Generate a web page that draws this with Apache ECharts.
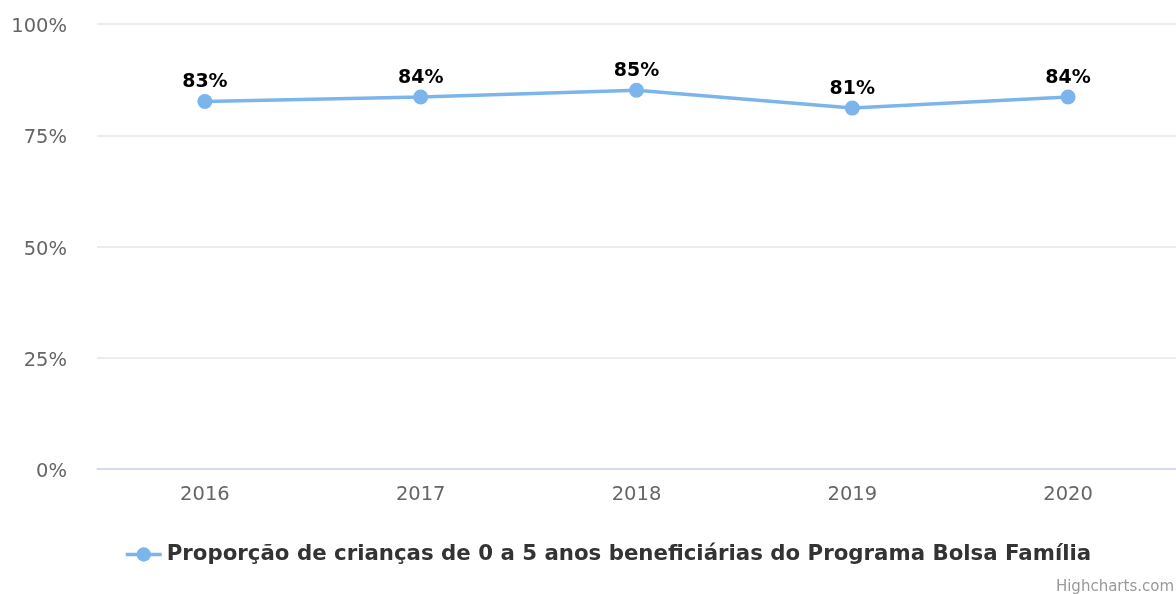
<!DOCTYPE html>
<html>
<head>
<meta charset="utf-8">
<script src="https://cdn.jsdelivr.net/npm/echarts@6/dist/echarts.min.js"></script>
<style>
html,body{margin:0;padding:0;background:#fff;}
#c{width:1176px;height:594px;}
</style>
</head>
<body>
<div id="c"></div>
<script>
var categories = ['2016', '2017', '2018', '2019', '2020'];
var values = [82.6, 83.6, 85.1, 81.1, 83.6];
var seriesName = 'Proporção de crianças de 0 a 5 anos beneficiárias do Programa Bolsa Família';
var yTicks = [0, 25, 50, 75, 100];

var chart = echarts.init(document.getElementById('c'), null, {renderer: 'canvas'});
var font = 'DejaVu Sans';
chart.setOption({
  animation: false,
  backgroundColor: '#ffffff',
  grid: {left: 97, right: -1, top: 24, bottom: 125, containLabel: false},
  xAxis: {
    type: 'category',
    data: categories,
    boundaryGap: true,
    axisLine: {show: true, lineStyle: {color: '#ccd6eb', width: 1.5}},
    axisTick: {show: false},
    axisLabel: {color: '#666666', fontFamily: font, fontSize: 19.5, margin: 16}
  },
  yAxis: {
    type: 'value',
    min: yTicks[0],
    max: yTicks[yTicks.length - 1],
    interval: 25,
    axisLine: {show: false},
    axisTick: {show: false},
    splitLine: {lineStyle: {color: '#e6e6e6', width: 1.5}},
    axisLabel: {color: '#666666', fontFamily: font, fontSize: 19.5, margin: 30,
      verticalAlign: 'top', lineHeight: 20, padding: [-7, 0, 0, 0],
      formatter: function (v) { return v + '%'; }}
  },
  legend: {
    show: true,
    left: 119,
    top: 539,
    itemWidth: 36,
    itemHeight: 18,
    itemGap: 8,
    lineStyle: {width: 3.5},
    textStyle: {color: '#333333', fontFamily: font, fontSize: 21.3, fontWeight: 'bold'},
    data: [{name: seriesName}]
  },
  graphic: [{
    type: 'text',
    right: 2,
    top: 580,
    style: {text: 'Highcharts.com', fill: '#999999', font: '15px "DejaVu Sans"'}
  }],
  series: [{
    name: seriesName,
    type: 'line',
    data: values,
    color: '#7cb5ec',
    symbol: 'circle',
    symbolSize: 15,
    lineStyle: {width: 3.5, color: '#7cb5ec'},
    itemStyle: {color: '#7cb5ec'},
    label: {
      show: true,
      position: 'top',
      distance: 2,
      color: '#000000',
      fontFamily: font,
      fontSize: 19,
      fontWeight: 'bold',
      formatter: function (p) { return Math.round(p.value) + '%'; }
    }
  }]
});
</script>
</body>
</html>
